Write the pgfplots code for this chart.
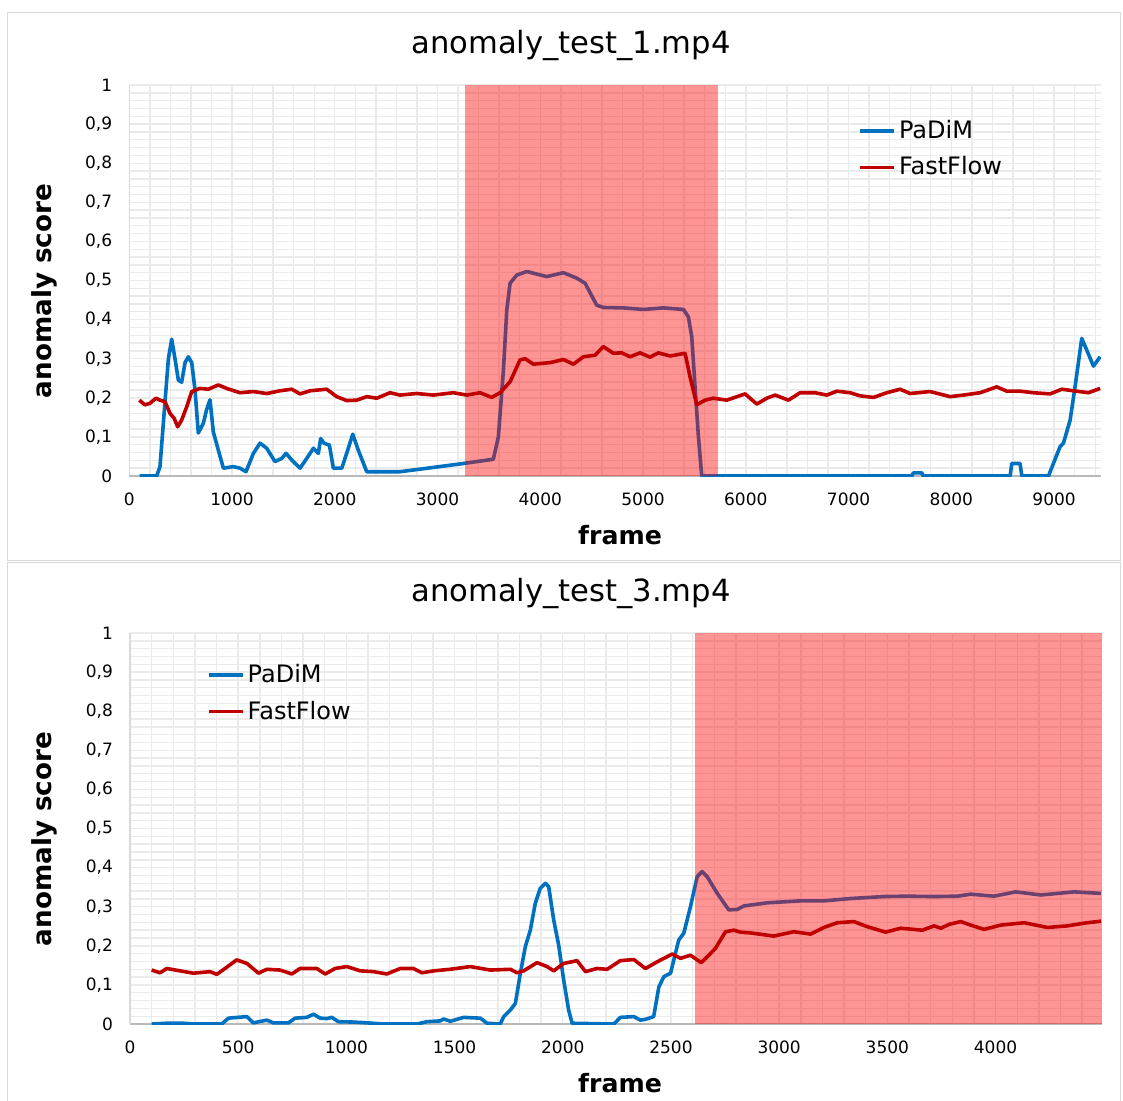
\documentclass[border=0pt]{standalone}
\usepackage{fontspec}
\setmainfont{DejaVu Sans}
\usepackage{pgfplots}
\pgfplotsset{compat=1.18}
\definecolor{padim}{HTML}{0070C0}
\definecolor{ffred}{HTML}{C00000}
\definecolor{gridc}{HTML}{EBEBEB}
\definecolor{framec}{HTML}{D9D9D9}

\pgfplotsset{
  panel/.style={
    scale only axis,
    anchor=south west,
    width=485.9pt, height=195.5pt,
    ymin=0, ymax=1,
    ytick={0,0.1,...,1},
    minor ytick={0,0.02,...,1},
    grid=both,
    major grid style={draw=gridc, line width=0.7pt},
    minor grid style={draw=gridc, line width=0.7pt},
    axis x line*=bottom, axis y line*=left,
    x axis line style={draw=gray!55, line width=0.6pt, -},
    y axis line style={draw=gray!30, line width=0.6pt, -},
    major tick length=0pt, minor tick length=0pt,
    tick style={draw=none},
    tick label style={font=\fontsize{8.5}{10}\selectfont},
    /pgf/number format/assume math mode=true,
    /pgf/number format/use comma,
    /pgf/number format/1000 sep={},
    xticklabel style={yshift=-5pt},
    yticklabel style={xshift=-5pt},
    legend style={draw=none, fill=none, inner sep=0pt,
      font=\fontsize{12}{14}\selectfont,
      nodes={inner sep=1.5pt, anchor=west}, row sep=4.5pt},
    legend cell align=left,
    legend image code/.code={\draw[##1, line width=1.75pt] (0pt,0pt) -- (17pt,0pt);},
  },
  padimline/.style={draw=padim, line width=1.8pt, line join=round},
  ffline/.style={draw=ffred, line width=1.8pt, line join=round},
}

\begin{document}
\begin{tikzpicture}
\useasboundingbox (0pt,0pt) rectangle (561.5pt,-550pt);
\draw[framec, line width=0.6pt] (3.75pt,-6.25pt) rectangle (560.25pt,-280.25pt);
\draw[framec, line width=0.6pt] (3.75pt,-281.25pt) rectangle (560.25pt,-551pt);

% top panel
\node at (285.5pt,-22.5pt) {\fontsize{15.3}{18}\selectfont anomaly\_test\_1.mp4};
\node[rotate=90] at (22pt,-145.5pt) {\fontsize{13.1}{15}\selectfont\bfseries anomaly score};
\node at (310pt,-267.5pt) {\fontsize{12.6}{15}\selectfont\bfseries frame};
\begin{axis}[panel, at={(64.625pt,-238pt)},
  xmin=0, xmax=9457,
  xtick={0,1000,...,9000},
  minor xtick={0,200,...,9400},
  legend style={at={(0.75,0.918)}, anchor=north west},
]
\addplot[padimline] coordinates {
(100,0) (267,0) (299,0.024) (348,0.19) (381,0.30) (413,0.35) (445,0.30) (478,0.245)
(510,0.24) (543,0.29) (575,0.305) (608,0.29) (640,0.22) (672,0.11) (721,0.135)
(753,0.17) (786,0.195) (818,0.113) (867,0.066) (916,0.02) (1013,0.024) (1078,0.02)
(1136,0.011) (1208,0.058) (1273,0.084) (1338,0.071) (1418,0.037) (1484,0.045)
(1526,0.058) (1581,0.041) (1662,0.02) (1727,0.045) (1792,0.071) (1840,0.058)
(1863,0.096) (1895,0.084) (1948,0.079) (1986,0.02) (2068,0.02) (2116,0.058)
(2175,0.107) (2229,0.066) (2311,0.011) (2635,0.011) (2960,0.022) (3252,0.032)
(3543,0.043) (3592,0.10) (3641,0.27) (3674,0.425) (3706,0.493) (3771,0.514)
(3868,0.523) (4063,0.51) (4225,0.52) (4355,0.506) (4436,0.493) (4549,0.437)
(4614,0.431) (4809,0.43) (5003,0.426) (5198,0.43) (5393,0.426) (5441,0.407)
(5474,0.356) (5506,0.228) (5539,0.10) (5571,0) (7615,0) (7631,0.008) (7712,0.008)
(7728,0) (8572,0) (8588,0.032) (8669,0.032) (8686,0) (8945,0) (9058,0.075)
(9091,0.084) (9156,0.143) (9204,0.228) (9269,0.352) (9318,0.322) (9383,0.281)
(9448,0.305)
};
\addlegendentry{PaDiM}
\addplot[draw=none, fill=red, fill opacity=0.42, forget plot]
  coordinates {(3268,0) (3268,1) (5730,1) (5730,0)} -- cycle;
\addplot[ffline] coordinates {
(98,0.194) (153,0.182) (202,0.186) (260,0.199) (299,0.194) (348,0.19) (397,0.16)
(436,0.148) (471,0.126) (510,0.143) (559,0.177) (608,0.216) (689,0.224) (770,0.222)
(867,0.233) (948,0.224) (1078,0.213) (1208,0.216) (1338,0.211) (1467,0.218)
(1581,0.222) (1662,0.21) (1759,0.218) (1921,0.222) (2019,0.203) (2116,0.193)
(2214,0.194) (2311,0.203) (2408,0.199) (2538,0.213) (2635,0.207) (2797,0.211)
(2960,0.207) (3154,0.213) (3284,0.207) (3414,0.213) (3527,0.201) (3608,0.213)
(3706,0.241) (3803,0.297) (3852,0.30) (3933,0.286) (4095,0.29) (4225,0.298)
(4322,0.286) (4420,0.305) (4533,0.309) (4614,0.331) (4711,0.314) (4792,0.315)
(4874,0.305) (4971,0.315) (5068,0.304) (5149,0.315) (5263,0.307) (5409,0.314)
(5457,0.254) (5523,0.182) (5603,0.194) (5684,0.199) (5814,0.194) (5993,0.21)
(6107,0.184) (6204,0.199) (6285,0.207) (6415,0.194) (6528,0.213) (6674,0.213)
(6788,0.207) (6886,0.217) (7015,0.213) (7113,0.205) (7242,0.201) (7372,0.213)
(7501,0.222) (7599,0.211) (7793,0.216) (7988,0.203) (8118,0.207) (8280,0.213)
(8442,0.228) (8540,0.217) (8669,0.217) (8799,0.213) (8961,0.21) (9075,0.222)
(9188,0.218) (9334,0.213) (9448,0.224)
};
\addlegendentry{FastFlow}
\end{axis}

% bottom panel
\node at (285.5pt,-296.5pt) {\fontsize{15.3}{18}\selectfont anomaly\_test\_3.mp4};
\node[rotate=90] at (22pt,-419.5pt) {\fontsize{13.1}{15}\selectfont\bfseries anomaly score};
\node at (310pt,-541.5pt) {\fontsize{12.6}{15}\selectfont\bfseries frame};
\begin{axis}[panel, at={(65pt,-512pt)},
  xmin=0, xmax=4491,
  xtick={0,500,...,4000},
  minor xtick={0,100,...,4400},
  legend style={at={(0.079,0.928)}, anchor=north west},
]
\addplot[padimline] coordinates {
(100,0) (170,0.002) (247,0.002) (293,0) (424,0) (455,0.015) (540,0.019) (570,0.003)
(632,0.01) (663,0.003) (732,0.003) (763,0.015) (817,0.017) (848,0.025) (879,0.015)
(910,0.014) (933,0.017) (963,0.006) (1033,0.005) (1095,0.003) (1172,0) (1326,0)
(1372,0.006) (1434,0.008) (1449,0.013) (1480,0.007) (1542,0.017) (1619,0.015)
(1650,0.002) (1711,0) (1727,0.019) (1758,0.036) (1781,0.053) (1804,0.13)
(1827,0.198) (1850,0.24) (1873,0.309) (1896,0.347) (1920,0.36) (1935,0.351)
(1958,0.266) (1981,0.202) (2004,0.113) (2027,0.036) (2043,0.002) (2236,0)
(2266,0.017) (2328,0.019) (2359,0.01) (2382,0.012) (2420,0.019) (2444,0.095)
(2467,0.121) (2498,0.13) (2513,0.164) (2536,0.215) (2559,0.232) (2590,0.30)
(2621,0.377) (2644,0.39) (2667,0.377) (2714,0.334) (2767,0.292) (2806,0.293)
(2837,0.302) (2945,0.31) (3099,0.315) (3207,0.315) (3330,0.321) (3484,0.326)
(3592,0.327) (3716,0.326) (3824,0.327) (3885,0.332) (3993,0.327) (4093,0.338)
(4209,0.33) (4363,0.338) (4487,0.334)
};
\addlegendentry{PaDiM}
\addplot[draw=none, fill=red, fill opacity=0.42, forget plot]
  coordinates {(2609,0) (2609,1) (4491,1) (4491,0)} -- cycle;
\addplot[ffline] coordinates {
(100,0.138) (139,0.131) (170,0.142) (231,0.136) (293,0.13) (370,0.134) (401,0.127)
(439,0.142) (493,0.164) (540,0.155) (594,0.13) (632,0.14) (694,0.138) (748,0.128)
(786,0.142) (863,0.142) (902,0.128) (948,0.142) (1002,0.147) (1064,0.136)
(1125,0.134) (1187,0.128) (1249,0.142) (1310,0.142) (1349,0.131) (1403,0.136)
(1480,0.14) (1573,0.147) (1665,0.138) (1758,0.14) (1789,0.131) (1819,0.136)
(1881,0.157) (1927,0.147) (1958,0.136) (2004,0.155) (2066,0.162) (2105,0.134)
(2158,0.142) (2205,0.14) (2266,0.162) (2328,0.165) (2382,0.142) (2436,0.159)
(2506,0.179) (2544,0.168) (2590,0.176) (2640,0.157) (2675,0.176) (2706,0.194)
(2752,0.236) (2791,0.24) (2821,0.235) (2868,0.233) (2975,0.225) (3068,0.236)
(3145,0.23) (3207,0.247) (3268,0.259) (3345,0.262) (3407,0.249) (3492,0.235)
(3561,0.245) (3662,0.24) (3716,0.251) (3747,0.245) (3786,0.255) (3839,0.262)
(3885,0.253) (3947,0.242) (4024,0.253) (4132,0.259) (4240,0.247) (4332,0.251)
(4409,0.258) (4487,0.263)
};
\addlegendentry{FastFlow}
\end{axis}
\end{tikzpicture}
\end{document}
